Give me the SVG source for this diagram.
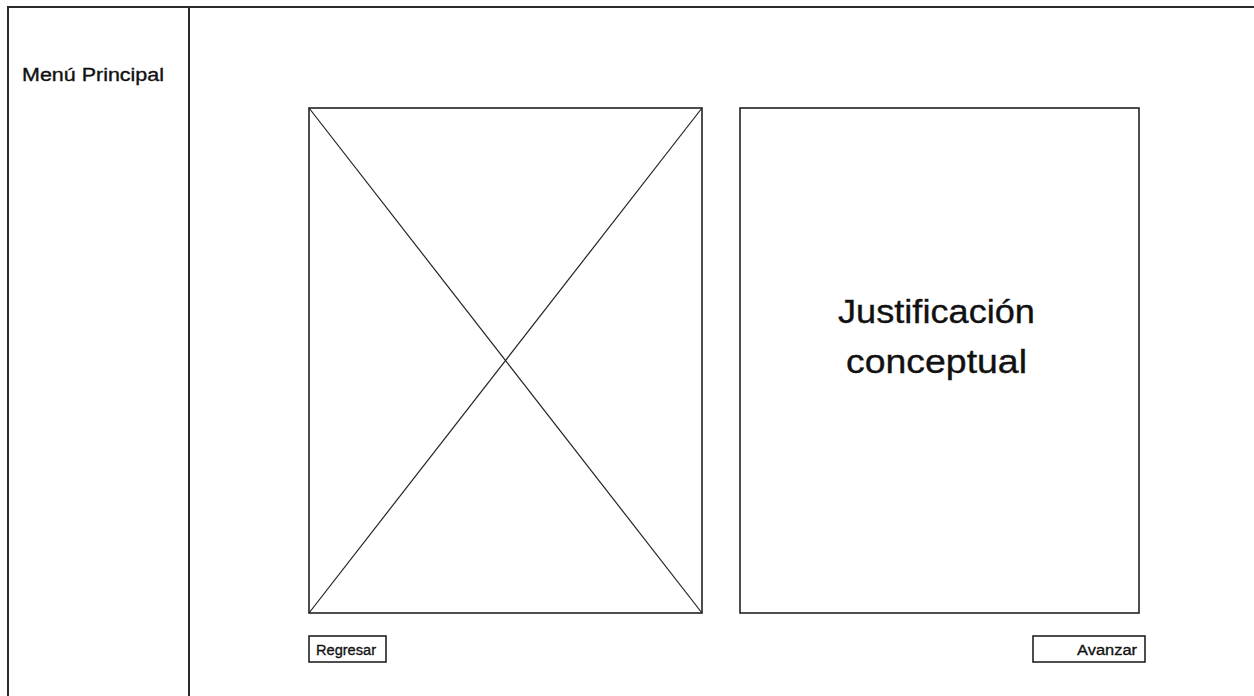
<svg xmlns="http://www.w3.org/2000/svg" width="1254" height="696" viewBox="0 0 1254 696">
<style>
.frame{fill:none;stroke:#2a2a2a;stroke-width:2}
.box{fill:#fff;stroke:#222;stroke-width:1.6}
.diag{stroke:#222;stroke-width:1.2}
.t{font-family:"Liberation Sans",Arial,sans-serif;fill:#111;stroke:#111;stroke-width:0.35}
</style>
<rect width="1254" height="696" fill="#fff"/>
<g id="frame">
<path class="frame" d="M8,696 V7 H1254 M189,7 V696"/>
</g>
<g id="menu">
<text class="t" x="22" y="81" font-size="18" textLength="142" lengthAdjust="spacingAndGlyphs">Menú Principal</text>
</g>
<g id="image-placeholder">
<rect class="box" x="309" y="108" width="393" height="505"/>
</g>
<g id="connectors">
<line class="diag" x1="309" y1="108" x2="702" y2="613"/>
<line class="diag" x1="702" y1="108" x2="309" y2="613"/>
</g>
<g id="text-panel">
<rect class="box" x="740" y="108" width="399" height="505"/>
<text class="t" x="838" y="323" font-size="34" stroke-width="0.6" textLength="197" lengthAdjust="spacingAndGlyphs">Justificación</text>
<text class="t" x="846" y="373" font-size="34" stroke-width="0.6" textLength="181" lengthAdjust="spacingAndGlyphs">conceptual</text>
</g>
<g id="btn-regresar">
<rect class="box" x="309" y="636" width="77" height="26"/>
<text class="t" x="316" y="655" font-size="15.5" textLength="60" lengthAdjust="spacingAndGlyphs">Regresar</text>
</g>
<g id="btn-avanzar">
<rect class="box" x="1033" y="636" width="112" height="26"/>
<text class="t" x="1077" y="655" font-size="15.5" textLength="60" lengthAdjust="spacingAndGlyphs">Avanzar</text>
</g>
</svg>
